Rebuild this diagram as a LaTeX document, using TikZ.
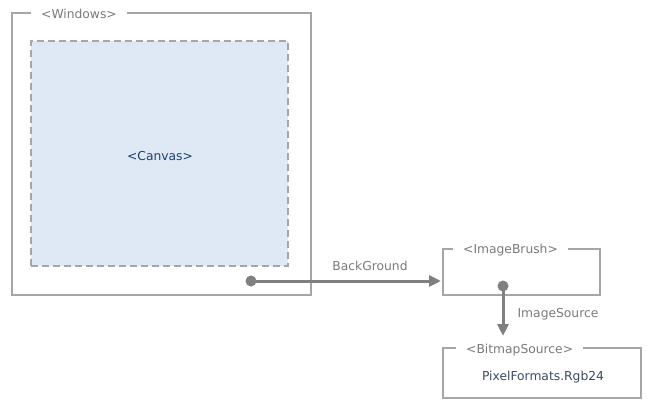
\documentclass[tikz,border=0pt]{standalone}
\usepackage{fontspec}
\setmainfont{DejaVu Sans}
\usetikzlibrary{arrows.meta}
\definecolor{framegray}{HTML}{A6A6A6}
\definecolor{linegray}{HTML}{808080}
\definecolor{canvasfill}{HTML}{DEE9F5}
\definecolor{darkblue}{HTML}{1F3F6F}
\definecolor{darkslate}{HTML}{3A4A66}
\definecolor{textgray}{HTML}{7A7A7A}
\begin{document}
\begin{tikzpicture}[x=1pt,y=-1pt,
  frame/.style={draw=framegray, line width=1.8pt, inner sep=0pt},
  title/.style={fill=white, text=textgray, font=\fontsize{12.3}{14}\selectfont, inner xsep=10pt, inner ysep=1pt},
  lbl/.style={text=textgray, font=\fontsize{12.3}{14}\selectfont},
  dot/.style={circle, fill=linegray, inner sep=0pt, minimum size=11pt},
  conn/.style={draw=linegray, line width=3pt, -{Triangle[length=12pt,width=11pt]}}]
\useasboundingbox (0,0) rectangle (657,413);
% Windows
\node[frame, minimum width=299pt, minimum height=282pt] (win) at (161.5,154) {};
\node[title, anchor=west] (wint) at (31,14) {<Windows>};
% Canvas
\node[draw=framegray, line width=1.8pt, dash pattern=on 7pt off 4pt, fill=canvasfill, minimum width=257pt, minimum height=225pt, inner sep=0pt] (canvas) at (159.5,153.5) {};
\node[text=darkblue, font=\fontsize{12.3}{14}\selectfont] (canvast) at (160,156.5) {<Canvas>};
% ImageBrush
\node[frame, minimum width=157pt, minimum height=46pt] (brush) at (521.5,272) {};
\node[title, anchor=west] (brusht) at (453,250) {<ImageBrush>};
% BitmapSource
\node[frame, minimum width=198pt, minimum height=50pt] (bmp) at (542,373) {};
\node[title, anchor=west] (bmpt) at (456,350) {<BitmapSource>};
\node[text=darkslate, font=\fontsize{12.3}{14}\selectfont] (fmt) at (543,377) {PixelFormats.Rgb24};
% connectors
\node[dot] (d1) at (251,281) {};
\coordinate (a1) at (441,281);
\draw[conn] (d1.center) -- (a1);
\node[lbl] (bg) at (370,266) {BackGround};
\node[dot] (d2) at (503,286) {};
\coordinate (a2) at (503,336);
\draw[conn] (d2.center) -- (a2);
\node[lbl] (is) at (558,314) {ImageSource};
\end{tikzpicture}
\end{document}
